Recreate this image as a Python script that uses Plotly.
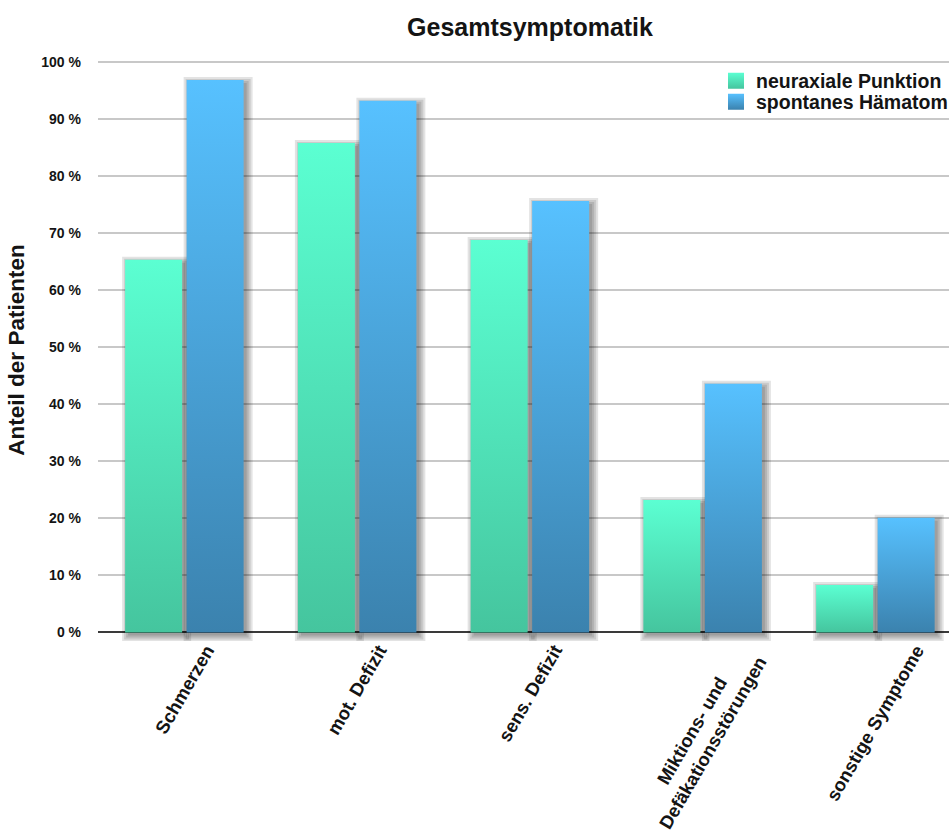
import plotly.graph_objects as go

# Symptom categories and share of patients (%) per group
categories = ["Schmerzen", "mot. Defizit", "sens. Defizit",
              "Miktions- und<br>Defäkationsstörungen", "sonstige Symptome"]
series_names = ["neuraxiale Punktion", "spontanes Hämatom"]
punktion = [65.3, 85.8, 68.8, 23.2, 8.3]
spontan = [96.8, 93.2, 75.6, 43.6, 20.1]
y_tick_vals = [0, 10, 20, 30, 40, 50, 60, 70, 80, 90, 100]
y_tick_text = ["0 %", "10 %", "20 %", "30 %", "40 %", "50 %",
               "60 %", "70 %", "80 %", "90 %", "100 %"]

FONT = "Liberation Sans, Arial, sans-serif"
TEXT = "#141414"

# gradient colours (bottom, top) per series
grad = [("#45C59E", "#5BFFD2"), ("#3B82AE", "#57C1FF")]

# geometry in axis units
X_RANGE = [-0.5, 4.426]
Y_RANGE = [-1.5, 100.5]
PX_X = 1 / 172.8          # one pixel in x units
PX_Y = 1 / 5.708          # one pixel in y units
BAR_W = 0.330
GAP = 0.026

PLOT_TOP, PLOT_BOTTOM = 59.0, 641.06
PLOT_H = PLOT_BOTTOM - PLOT_TOP

fig = go.Figure()


def rect(x0, x1, y0, y1):
    return [x0, x1, x1, x0, x0], [y0, y0, y1, y1, y0]


series = [punktion, spontan]
for s, values in enumerate(series):
    for i, v in enumerate(values):
        if s == 0:
            x0, x1 = i - GAP / 2 - BAR_W, i - GAP / 2
        else:
            x0, x1 = i + GAP / 2, i + GAP / 2 + BAR_W
        # soft drop shadow, offset right/down, built from stacked translucent layers
        for e in (0, 2, 4, 6):
            sx, sy = rect(x0 + (3 - e) * PX_X, x1 + (3 + e) * PX_X,
                          -3 * PX_Y - e * PX_Y, v - 3 * PX_Y + e * PX_Y)
            fig.add_trace(go.Scatter(
                x=sx, y=sy, mode="lines", fill="toself",
                fillcolor="rgba(0,0,0,0.11)", line=dict(width=0),
                hoverinfo="skip", showlegend=False))
        bx, by = rect(x0, x1, 0, v)
        fig.add_trace(go.Scatter(
            x=bx, y=by, mode="lines", fill="toself",
            fillgradient=dict(type="vertical",
                              colorscale=[[0, grad[s][0]], [1, grad[s][1]]]),
            line=dict(width=0), showlegend=False,
            name=series_names[s], hoveron="fills",
            text=f"{v:.1f} %", hoverinfo="name+text"))

# legend entries with gradient square swatches, one legend per row
legend_ids = ["legend", "legend2"]
for s in range(2):
    fig.add_trace(go.Scatter(
        x=[None], y=[None], mode="markers", name=series_names[s],
        legend=legend_ids[s],
        marker=dict(symbol="square", size=16, color=grad[s][1],
                    gradient=dict(type="vertical", color=grad[s][0]),
                    line=dict(width=0))))

# rotated category labels centred under each group
for i, c in enumerate(categories):
    fig.add_annotation(
        x=i, y=0, xref="x", yref="y", text=c, showarrow=False,
        textangle=-60, xanchor="center", yanchor="top", yshift=-6,
        font=dict(family=FONT, size=18.5, color=TEXT, weight="bold"))

legend_style = dict(x=(716 - 98) / 851, xanchor="left", yanchor="middle",
                    bgcolor="rgba(255,255,255,0)", borderwidth=0,
                    itemsizing="trace",
                    font=dict(family=FONT, size=19.5, color=TEXT,
                              weight="bold"))

fig.update_layout(
    width=949, height=837,
    margin=dict(l=98, r=0, t=PLOT_TOP, b=837 - PLOT_BOTTOM, autoexpand=False),
    paper_bgcolor="white", plot_bgcolor="white",
    title=dict(text="Gesamtsymptomatik", x=530 / 949, xanchor="center",
               y=1 - 27 / 837, yanchor="middle",
               font=dict(family=FONT, size=25, color=TEXT, weight="bold")),
    showlegend=True,
    legend=dict(y=(PLOT_BOTTOM - 81) / PLOT_H, **legend_style),
    legend2=dict(y=(PLOT_BOTTOM - 102) / PLOT_H, **legend_style),
    xaxis=dict(range=X_RANGE, showgrid=False, zeroline=False,
               showticklabels=False, showline=False, fixedrange=True),
    yaxis=dict(range=Y_RANGE, tickmode="array", tickvals=y_tick_vals,
               ticktext=y_tick_text, showgrid=True, gridcolor="#c8c8c8",
               gridwidth=1.5, zeroline=True, zerolinecolor="#3a3a3a",
               zerolinewidth=1.6, showline=False, ticks="",
               ticklabelstandoff=16,
               tickfont=dict(family=FONT, size=14, color=TEXT, weight="bold"),
               title=dict(text="Anteil der Patienten", standoff=10,
                          font=dict(family=FONT, size=22.5, color=TEXT,
                                    weight="bold"))),
)

fig.write_html("out.html")
